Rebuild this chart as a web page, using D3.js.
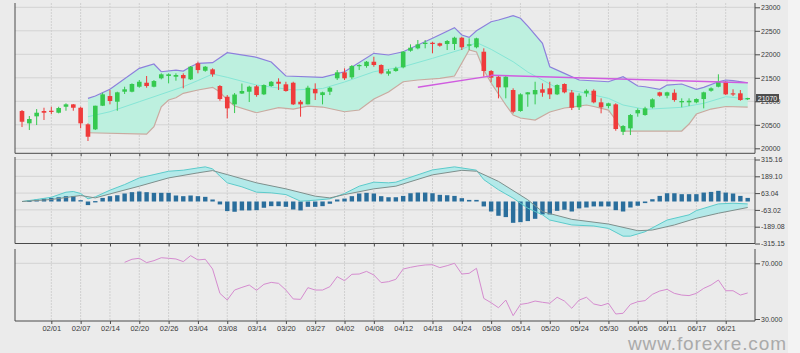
<!DOCTYPE html>
<html>
<head>
<meta charset="utf-8">
<script src="https://cdn.jsdelivr.net/npm/d3@7"></script>
<style>
  body { margin: 0; background: #ebebeb; }
  svg { display: block; font-family: "Liberation Sans", Arial, sans-serif; }
</style>
</head>
<body>
<svg id="chart"></svg>
<script>
// candles (index 0..99)
const opens = [20793, 20531, 20680, 20793, 20799, 20757, 20884, 20935, 20863, 20510,
  20403, 20906, 21112, 20991, 21204, 21204, 21310, 21395, 21310, 21489,
  21538, 21523, 21559, 21467, 21808, 21650, 21680, 21325, 21097, 20935,
  21165, 21204, 21318, 21148, 21325, 21416, 21361, 21395, 20991, 20935,
  21261, 21133, 21204, 21489, 21616, 21510, 21750, 21750, 21842, 21772,
  21587, 21644, 21723, 22076, 22127, 22219, 22246, 22234, 22219, 22219,
  22353, 22183, 22149, 22055, 21644, 21523, 21297, 21240, 20793, 21148,
  21148, 21255, 21276, 21148, 21368, 21187, 20872, 21170, 21225, 20978,
  20899, 20935, 20352, 20425, 20744, 20708, 20872, 21191, 21119, 21182,
  20978, 20978, 20978, 21048, 21225, 21310, 21416, 21170, 21170, 21042];
const highs = [20814, 20687, 20835, 20863, 20884, 20884, 20957, 20942, 20884, 20531,
  20906, 21182, 21240, 21204, 21310, 21382, 21453, 21538, 21453, 21595,
  21595, 21595, 21595, 21750, 21842, 21750, 21702, 21346, 21133, 21176,
  21378, 21331, 21346, 21361, 21431, 21489, 21416, 21416, 21027, 21331,
  21382, 21204, 21310, 21665, 21702, 21772, 21787, 21857, 21948, 21787,
  21680, 21736, 22070, 22212, 22304, 22304, 22268, 22246, 22304, 22374,
  22374, 22340, 22353, 22127, 21665, 21559, 21559, 21276, 21170, 21197,
  21416, 21382, 21416, 21361, 21382, 21240, 21170, 21255, 21255, 21063,
  20970, 20957, 20495, 20729, 20850, 20884, 21063, 21204, 21204, 21255,
  21063, 21063, 21063, 21204, 21297, 21574, 21431, 21255, 21240, 21076];
const lows = [20452, 20389, 20495, 20602, 20729, 20744, 20799, 20799, 20425, 20155,
  20389, 20899, 20935, 20799, 21155, 21191, 21289, 21289, 21297, 21467,
  21382, 21438, 21276, 21453, 21595, 21629, 21523, 21012, 20638, 20750,
  21155, 20985, 21097, 21133, 21310, 21240, 21204, 20921, 20672, 20935,
  21027, 20935, 21133, 21453, 21453, 21474, 21665, 21714, 21736, 21574,
  21544, 21629, 21702, 22055, 22106, 22127, 22021, 22161, 22091, 22091,
  22091, 22091, 22127, 21523, 21404, 21063, 21063, 20744, 20778, 20884,
  20935, 21097, 21048, 21133, 21170, 20814, 20814, 21097, 20957, 20744,
  20850, 20374, 20282, 20282, 20672, 20693, 20850, 21097, 21063, 20991,
  20872, 20899, 20957, 20850, 21204, 21297, 21133, 21112, 21012, 21027];
const closes = [20565, 20623, 20757, 20757, 20778, 20857, 20935, 20863, 20531, 20246,
  20906, 21148, 21006, 21191, 21255, 21368, 21416, 21325, 21431, 21574,
  21574, 21559, 21489, 21736, 21665, 21736, 21574, 21048, 20850, 21144,
  21219, 21310, 21133, 21346, 21416, 21374, 21219, 20935, 20935, 21289,
  21170, 21191, 21289, 21616, 21489, 21750, 21772, 21842, 21772, 21595,
  21638, 21702, 22055, 22140, 22212, 22246, 22219, 22183, 22283, 22353,
  22149, 22212, 22340, 21644, 21502, 21297, 21523, 20778, 21148, 21191,
  21240, 21182, 21148, 21346, 21191, 20863, 21119, 21225, 20978, 20872,
  20957, 20410, 20474, 20708, 20814, 20850, 21042, 21119, 21191, 21027,
  21006, 21012, 21048, 21191, 21276, 21416, 21148, 21148, 21027, 21070];

const tickLabels = ['02/01', '02/07', '02/14', '02/20', '02/26', '03/04', '03/08', '03/14',
  '03/20', '03/27', '04/02', '04/08', '04/12', '04/18', '04/24', '05/08', '05/14', '05/20',
  '05/24', '05/30', '06/05', '06/11', '06/17', '06/21'];
const tickIdx = [4, 8, 12, 16, 20, 24, 28, 32, 36, 40, 44, 48, 52, 56, 60, 64, 68, 72,
  76, 80, 84, 88, 92, 96];

// bollinger band vertices [candle index, price]
const bbUpper = [[9, 21063], [10, 21112], [12, 21255], [16, 21702], [18, 21793], [19, 21629],
  [21, 21665], [22, 21644], [23, 21736], [24, 21808], [26, 21821], [28, 22034], [32, 21936],
  [34, 21836], [36, 21538], [41, 21510], [44, 21629], [48, 22021], [50, 21985], [52, 22055],
  [56, 22340], [59, 22566], [60, 22410], [61, 22361], [62, 22500], [64, 22693], [65, 22729],
  [67, 22821], [68, 22766], [69, 22600], [71, 22234], [72, 21736], [74, 21595], [76, 21453],
  [80, 21416], [82, 21523], [84, 21325], [85, 21310], [87, 21255], [88, 21346], [90, 21368],
  [92, 21255], [93, 21297], [95, 21416], [96, 21453], [97, 21438], [99, 21395]];
const bbMiddle = [[9, 20672], [12, 20778], [16, 20991], [18, 21097], [22, 21310], [24, 21442],
  [26, 21580], [28, 21510], [32, 21346], [37, 21240], [41, 21272], [44, 21410], [48, 21629],
  [52, 21736], [56, 21914], [60, 22106], [61, 22176], [62, 22251], [64, 22106], [67, 21842],
  [69, 21623], [71, 21453], [73, 21282], [76, 21204], [78, 21133], [80, 21063], [82, 20921],
  [85, 20829], [90, 20872], [93, 20957], [96, 21097], [97, 21084], [99, 21042]];
const bbLower = [[9, 20331], [17, 20303], [18, 20459], [19, 20884], [20, 21027], [21, 21076],
  [22, 21170], [24, 21240], [26, 21297], [27, 21197], [28, 21027], [29, 20899], [32, 20757],
  [33, 20793], [35, 20867], [37, 20835], [39, 20899], [41, 20878], [44, 20778], [46, 20814],
  [48, 21048], [50, 21197], [52, 21416], [54, 21453], [57, 21489], [59, 21538], [60, 21814],
  [61, 22091], [62, 22048], [63, 21665], [64, 21389], [66, 20921], [67, 20708], [68, 20644],
  [70, 20602], [72, 20772], [74, 20857], [75, 20878], [77, 20921], [78, 20889], [80, 20814],
  [81, 20602], [82, 20367], [90, 20367], [91, 20516], [92, 20729], [94, 20835], [96, 20889],
  [99, 20878]];

// trend lines [candle index, price]
const trendLines = [
  [[54, 21300], [64, 21540]],
  [[64, 21555], [99, 21395]]
];

const priceTicks = [20000, 20500, 21000, 21500, 22000, 22500, 23000];
const lastPrice = '21070';

// MACD
const macdHist = [0, 7, 15, 22, 27, 32, 40, 40, 10, -27,
  3, 27, 40, 47, 60, 70, 75, 70, 65, 65,
  65, 45, 40, 45, 40, 35, 15, -22, -72, -77,
  -67, -67, -65, -47, -35, -35, -40, -60, -67, -40,
  -40, -35, -17, 15, 22, 40, 60, 65, 60, 40,
  32, 32, 42, 62, 67, 67, 62, 50, 47, 42,
  25, 12, 12, -37, -75, -107, -117, -160, -155, -147,
  -130, -97, -97, -70, -62, -75, -52, -45, -37, -37,
  -37, -65, -75, -45, -32, -12, 17, 42, 62, 62,
  55, 55, 55, 67, 72, 80, 67, 60, 42, 27];
const macdLine = [[0, 0], [2, 15], [4, 32], [6, 70], [7, 75], [8, 60], [9, 20], [10, 35], [12, 85],
  [14, 127], [16, 177], [18, 202], [20, 227], [22, 235], [24, 252], [25, 260], [26, 245],
  [27, 190], [28, 140], [30, 110], [32, 70], [34, 65], [36, 52], [37, 27], [38, 2], [40, 10],
  [42, 20], [44, 60], [46, 115], [48, 145], [50, 140], [51, 145], [56, 237], [59, 260],
  [62, 235], [63, 164], [65, 88], [67, 25], [69, -50], [71, -100], [72, -139], [75, -176],
  [78, -184], [80, -202], [82, -260], [83, -260], [85, -227], [88, -139], [91, -100],
  [92, -68], [95, -18], [97, -13], [99, -18]];
const signalLine = [[0, 0], [4, 15], [8, 45], [10, 27], [12, 57], [16, 115], [20, 177], [24, 215],
  [26, 232], [28, 202], [32, 140], [36, 95], [40, 40], [42, 27], [44, 52], [48, 95], [51, 115],
  [56, 200], [60, 234], [62, 227], [65, 151], [69, 13], [71, -76], [75, -134], [80, -169],
  [84, -219], [86, -214], [89, -176], [92, -126], [95, -88], [99, -45]];
const macdTicks = [315.16, 189.10, 63.04, -63.02, -189.08, -315.15];
const macdTickLabels = ['315.16', '189.10', '63.04', '-63.02', '-189.08', '-315.15'];

// RSI, starts at candle 14
const rsiStart = 14;
const rsiValues = [70.7, 72.9, 73.6, 70.5, 71.9, 74.0, 73.6, 73.1, 71.2, 75.5,
  72.4, 72.9, 65.9, 48.4, 43.6, 50.8, 52.7, 54.4, 50.6, 54.9,
  56.3, 55.6, 50.8, 44.4, 44.1, 52.5, 50.8, 50.8, 53.2, 60.4,
  57.5, 62.1, 62.3, 64.2, 61.6, 56.1, 56.8, 58.5,
  65.9, 67.1, 68.1, 68.8, 69.0, 66.9, 68.3, 70.0, 62.3, 62.8,
  66.4, 44.8, 41.7, 38.1, 43.6, 32.4, 40.5, 41.3, 42.9, 42.0,
  41.3, 45.6, 42.9, 37.7, 43.6, 45.6, 40.8, 39.6, 41.3, 33.6,
  34.1, 40.5, 42.4, 43.2, 47.7, 50.1, 51.3, 48.4, 47.2, 46.8,
  48.4, 52.0, 54.4, 58.0, 50.3, 50.3, 47.2, 48.7];
const rsiTicks = [70, 30];
const rsiTickLabels = ['70.000', '30.000'];

(function() {
  const svgDim = { w: 800, h: 353 },
    plotL = 15,
    plotR = 755,
    xScale = d3.scaleLinear().domain([0, 99]).range([22, 747.7]),
    priceY = d3.scaleLinear().domain([20000, 23000]).range([148.3, 7.3]),
    macdY = d3.scaleLinear().domain([-315.15, 315.16]).range([243.5, 159.5]),
    rsiY = d3.scaleLinear().domain([30, 70]).range([319, 263.3]);

  const panels = [
    { top: 3, bottom: 153.3, y: priceY, ticks: priceTicks, labels: priceTicks.map(String), grid: priceTicks },
    { top: 157, bottom: 243.5, y: macdY, ticks: macdTicks, labels: macdTickLabels, grid: macdTicks },
    { top: 249, bottom: 321, y: rsiY, ticks: rsiTicks, labels: rsiTickLabels, grid: [70] }
  ];

  const $svg = d3.select('#chart')
    .attr('width', svgDim.w)
    .attr('height', svgDim.h);

  $svg.append('rect')
    .attr('width', svgDim.w).attr('height', svgDim.h)
    .attr('fill', '#ebebeb');
  $svg.append('rect')
    .attr('x', 788).attr('width', 12).attr('height', svgDim.h)
    .attr('fill', '#f3f3f3');

  // grids
  panels.forEach((p) => {
    const g = $svg.append('g');
    g.selectAll('line.h')
      .data(p.grid)
      .enter()
      .append('line')
      .attr('x1', plotL).attr('x2', plotR)
      .attr('y1', (d) => p.y(d)).attr('y2', (d) => p.y(d))
      .attr('stroke', '#d3d3d3').attr('stroke-width', 1);
    g.selectAll('line.v')
      .data(tickIdx)
      .enter()
      .append('line')
      .attr('x1', (d) => xScale(d)).attr('x2', (d) => xScale(d))
      .attr('y1', p.top).attr('y2', p.bottom)
      .attr('stroke', '#d0d0d0').attr('stroke-width', 1)
      .attr('stroke-dasharray', '2,1');
  });

  // bollinger fill + lines
  const pline = d3.line().x((d) => xScale(d[0])).y((d) => priceY(d[1]));
  $svg.append('path')
    .attr('d', pline(bbUpper.concat(bbLower.slice().reverse())) + 'Z')
    .attr('fill', '#bdf0df')
    .attr('stroke', 'none');
  $svg.append('path').attr('d', pline(bbMiddle))
    .attr('fill', 'none').attr('stroke', '#86e6d6').attr('stroke-width', 1);
  $svg.append('path').attr('d', pline(bbUpper))
    .attr('fill', 'none').attr('stroke', '#8d7fdc').attr('stroke-width', 1.2);
  $svg.append('path').attr('d', pline(bbLower))
    .attr('fill', 'none').attr('stroke', '#c9aaa0').attr('stroke-width', 1.2);

  // candles
  const candles = d3.range(opens.length).map((i) => ({
    i: i, o: opens[i], h: highs[i], l: lows[i], c: closes[i]
  }));
  const colorOf = (d) => d.c >= d.o ? '#35c94f' : '#ef3b3b';
  const $candles = $svg.append('g');
  $candles.selectAll('line')
    .data(candles)
    .enter()
    .append('line')
    .attr('x1', (d) => xScale(d.i)).attr('x2', (d) => xScale(d.i))
    .attr('y1', (d) => priceY(d.h)).attr('y2', (d) => priceY(d.l))
    .attr('stroke', colorOf).attr('stroke-width', 1);
  $candles.selectAll('rect')
    .data(candles)
    .enter()
    .append('rect')
    .attr('x', (d) => xScale(d.i) - 2.3)
    .attr('width', 4.6)
    .attr('y', (d) => priceY(Math.max(d.o, d.c)))
    .attr('height', (d) => Math.max(1.2, Math.abs(priceY(d.o) - priceY(d.c))))
    .attr('fill', colorOf);

  // trend lines
  $svg.selectAll('path.trend')
    .data(trendLines)
    .enter()
    .append('path')
    .attr('d', (d) => pline(d))
    .attr('fill', 'none')
    .attr('stroke', '#d05ce0')
    .attr('stroke-width', 1.4);

  // MACD
  const mline = d3.line().x((d) => xScale(d[0])).y((d) => macdY(d[1]));
  $svg.append('path')
    .attr('d', mline(macdLine.concat(signalLine.slice().reverse())) + 'Z')
    .attr('fill', '#b3e9e9').attr('stroke', 'none');
  $svg.selectAll('rect.hist')
    .data(macdHist)
    .enter()
    .append('rect')
    .attr('x', (d, i) => xScale(i) - 2.2)
    .attr('width', 4.4)
    .attr('y', (d) => macdY(Math.max(0, d)))
    .attr('height', (d) => Math.max(1.3, Math.abs(macdY(d) - macdY(0))))
    .attr('fill', (d, i) => i === 0 ? 'none' : '#2a6e9c');
  $svg.append('path').attr('d', mline(macdLine))
    .attr('fill', 'none').attr('stroke', '#5ccbcb').attr('stroke-width', 1);
  $svg.append('path').attr('d', mline(signalLine))
    .attr('fill', 'none').attr('stroke', '#7f8f8c').attr('stroke-width', 1);

  // RSI
  $svg.append('path')
    .attr('d', d3.line()
      .x((d, i) => xScale(rsiStart + i))
      .y((d) => rsiY(d))(rsiValues))
    .attr('fill', 'none')
    .attr('stroke', '#d58bcf')
    .attr('stroke-width', 1);

  // axes
  panels.forEach((p, pi) => {
    const g = $svg.append('g').attr('stroke', '#4a4a4a');
    g.append('line').attr('x1', plotL).attr('x2', plotL).attr('y1', p.top).attr('y2', p.bottom);
    g.append('line').attr('x1', plotR).attr('x2', plotR).attr('y1', p.top).attr('y2', p.bottom);
    g.append('line').attr('x1', plotL).attr('x2', plotR).attr('y1', p.bottom).attr('y2', p.bottom);

    const bottomAxis = d3.axisBottom(xScale)
      .tickValues(tickIdx)
      .tickSize(3)
      .tickSizeOuter(0)
      .tickPadding(2)
      .tickFormat((d, i) => pi === 2 ? tickLabels[i] : '');
    const $b = $svg.append('g')
      .attr('transform', 'translate(0,' + p.bottom + ')')
      .call(bottomAxis);
    $b.select('.domain').remove();
    $b.selectAll('line').attr('stroke', '#4a4a4a');
    $b.selectAll('text').attr('fill', '#3a3a3a').attr('font-size', 7.5)
      .attr('font-family', '"Liberation Sans", Arial, sans-serif');

    const rightAxis = d3.axisRight(p.y)
      .tickValues(p.ticks)
      .tickSize(5)
      .tickSizeOuter(0)
      .tickPadding(1)
      .tickFormat((d, i) => p.labels[i]);
    const $r = $svg.append('g')
      .attr('transform', 'translate(' + plotR + ',0)')
      .call(rightAxis);
    $r.select('.domain').remove();
    $r.selectAll('line').attr('stroke', '#4a4a4a');
    $r.selectAll('text').attr('fill', '#3a3a3a').attr('font-size', 7)
      .attr('font-family', '"Liberation Sans", Arial, sans-serif');
  });

  // last price tag
  const lastY = priceY(+lastPrice);
  $svg.append('rect')
    .attr('x', plotR + 1).attr('y', lastY - 4)
    .attr('width', 23).attr('height', 8)
    .attr('fill', '#4d4d4d');
  $svg.append('text')
    .text(lastPrice)
    .attr('x', plotR + 12.5).attr('y', lastY + 2.5)
    .attr('text-anchor', 'middle')
    .attr('font-size', 7)
    .attr('fill', '#ffffff');

  // watermark
  $svg.append('text')
    .text('www.forexre.com')
    .attr('x', 628).attr('y', 350)
    .attr('font-size', 19)
    .attr('textLength', 158)
    .attr('fill', '#aaaaaa');
})();
</script>
</body>
</html>
